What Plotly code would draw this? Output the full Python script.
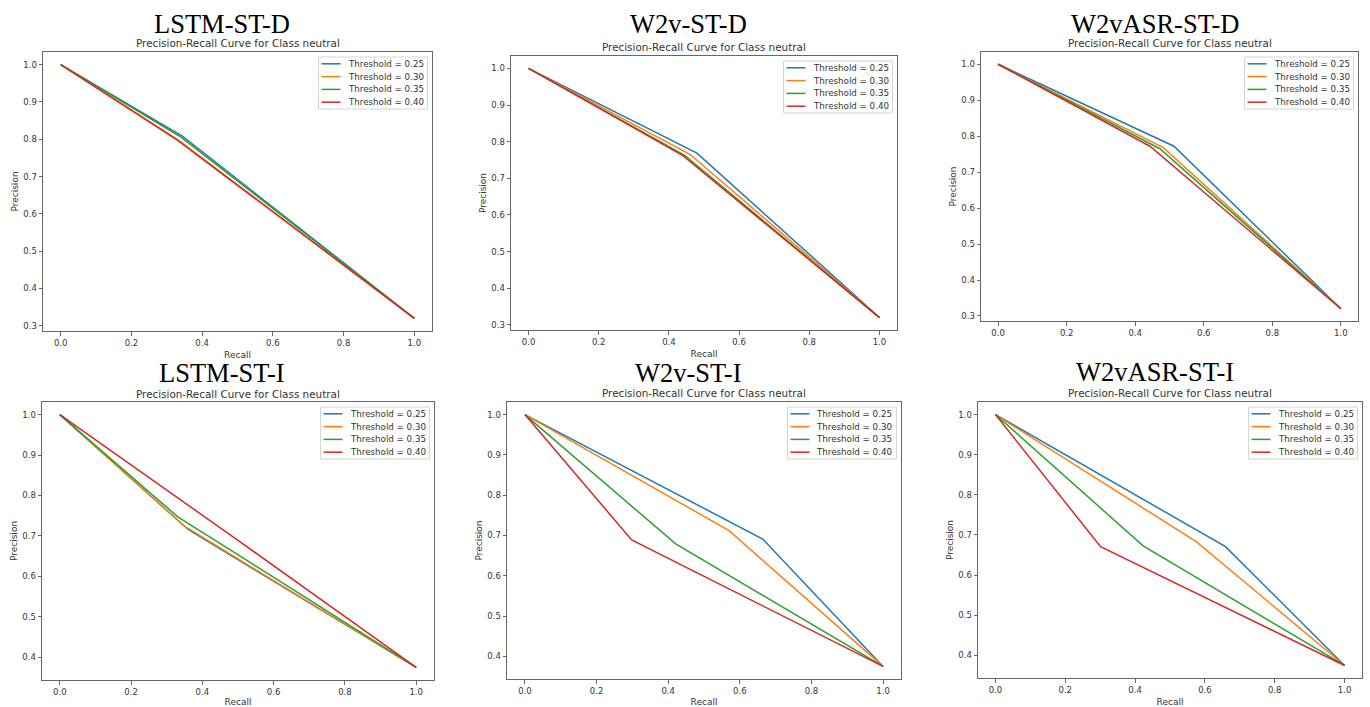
import plotly.graph_objects as go

W, H = 1370, 707

# ---------------- data ----------------
panel_names = ["LSTM-ST-D", "W2v-ST-D", "W2vASR-ST-D", "LSTM-ST-I", "W2v-ST-I", "W2vASR-ST-I"]
thresholds = ["0.25", "0.30", "0.35", "0.40"]
colors = ["#1f77b4", "#ff7f0e", "#2ca02c", "#d62728"]

# recall / precision per panel, per threshold (start, kink, end)
recall_lstm_d = [[0, 0.345, 1], [0, 0.33, 1], [0, 0.34, 1], [0, 0.33, 1]]
precision_lstm_d = [[1.0, 0.808, 0.32], [1.0, 0.800, 0.32], [1.0, 0.806, 0.32], [1.0, 0.798, 0.32]]

recall_w2v_d = [[0, 0.48, 1], [0, 0.461, 1], [0, 0.445, 1], [0, 0.44, 1]]
precision_w2v_d = [[1.0, 0.769, 0.32], [1.0, 0.765, 0.32], [1.0, 0.763, 0.32], [1.0, 0.762, 0.32]]

recall_w2vasr_d = [[0, 0.513, 1], [0, 0.482, 1], [0, 0.472, 1], [0, 0.443, 1]]
precision_w2vasr_d = [[1.0, 0.772, 0.32], [1.0, 0.768, 0.32], [1.0, 0.765, 0.32], [1.0, 0.772, 0.32]]

recall_lstm_i = [[0, 0.36, 1], [0, 0.35, 1], [0, 0.33, 1], [0, 0.50, 1]]
precision_lstm_i = [[1.0, 0.716, 0.375], [1.0, 0.724, 0.375], [1.0, 0.748, 0.375], [1.0, 0.689, 0.375]]

recall_w2v_i = [[0, 0.664, 1], [0, 0.570, 1], [0, 0.421, 1], [0, 0.298, 1]]
precision_w2v_i = [[1.0, 0.691, 0.375], [1.0, 0.712, 0.375], [1.0, 0.679, 0.375], [1.0, 0.689, 0.375]]

recall_w2vasr_i = [[0, 0.659, 1], [0, 0.576, 1], [0, 0.423, 1], [0, 0.301, 1]]
precision_w2vasr_i = [[1.0, 0.671, 0.375], [1.0, 0.683, 0.375], [1.0, 0.673, 0.375], [1.0, 0.671, 0.375]]

recalls = [recall_lstm_d, recall_w2v_d, recall_w2vasr_d, recall_lstm_i, recall_w2v_i, recall_w2vasr_i]
precisions = [precision_lstm_d, precision_w2v_d, precision_w2vasr_d, precision_lstm_i, precision_w2v_i, precision_w2vasr_i]

y_ticks_top = [0.3, 0.4, 0.5, 0.6, 0.7, 0.8, 0.9, 1.0]
y_ticks_bot = [0.4, 0.5, 0.6, 0.7, 0.8, 0.9, 1.0]
x_ticks = [0.0, 0.2, 0.4, 0.6, 0.8, 1.0]

# ---------------- layout (pixel boxes: left, right, top, bottom) ----------------
boxes = [(43, 432, 52, 331), (511, 897, 56, 330), (981, 1358, 52, 321),
         (42, 434, 402, 680), (507, 901, 402, 679), (978, 1362, 402, 678)]
yranges = [[0.286, 1.034]] * 3 + [[0.3438, 1.0312]] * 3
big_title_pos = [(222, 24), (688, 24), (1155, 24), (222, 373), (688, 373), (1155, 372)]
small_title_y = [43, 47, 43, 394, 393, 393]
show_xlabel = [True, True, False, True, True, True]

fig = go.Figure()
annotations = []
shapes = []
layout = dict(
    width=W, height=H, margin=dict(l=0, r=0, t=0, b=0),
    paper_bgcolor="white", plot_bgcolor="white",
    font=dict(family="DejaVu Sans", color="#333"),
    showlegend=False,
)

LEG_W, LEG_H = 109, 52
for i in range(6):
    sfx = "" if i == 0 else str(i + 1)
    L, R, T, B = boxes[i]
    for k in range(4):
        fig.add_trace(go.Scatter(
            x=recalls[i][k], y=precisions[i][k], mode="lines",
            line=dict(color=colors[k], width=1.5),
            name=f"Threshold = {thresholds[k]}",
            xaxis="x" + sfx, yaxis="y" + sfx,
        ))
    axcommon = dict(showgrid=False, zeroline=False, showline=True, mirror=True,
                    linecolor="#666", linewidth=1, ticks="outside", ticklen=3.5,
                    tickcolor="#666", tickfont=dict(size=8.5, color="#333"),
                    tickformat=".1f")
    layout["xaxis" + sfx] = dict(
        axcommon, domain=[L / W, R / W], range=[-0.05, 1.05], tickvals=x_ticks,
        anchor="y" + sfx,
        title=dict(text="Recall" if show_xlabel[i] else "", font=dict(size=9), standoff=4),
    )
    layout["yaxis" + sfx] = dict(
        axcommon, domain=[1 - B / H, 1 - T / H], range=yranges[i],
        tickvals=y_ticks_top if i < 3 else y_ticks_bot, anchor="x" + sfx,
        title=dict(text="Precision", font=dict(size=9), standoff=3),
    )
    # legend box (matplotlib style)
    lr = R - 4.5
    ll = lr - LEG_W
    lt = T + 5
    lb = lt + LEG_H
    shapes.append(dict(type="rect", xref="paper", yref="paper",
                       x0=ll / W, x1=lr / W, y0=1 - lb / H, y1=1 - lt / H,
                       line=dict(color="#d5d5d5", width=1), fillcolor="rgba(255,255,255,0.8)"))
    for k in range(4):
        ry = lt + 6.8 + 12.8 * k
        shapes.append(dict(type="line", xref="paper", yref="paper",
                           x0=(ll + 3) / W, x1=(ll + 22) / W, y0=1 - ry / H, y1=1 - ry / H,
                           line=dict(color=colors[k], width=1.5)))
        annotations.append(dict(text=f"Threshold = {thresholds[k]}", x=(ll + 27) / W, y=1 - ry / H,
                                xref="paper", yref="paper", showarrow=False,
                                xanchor="left", yanchor="middle",
                                font=dict(size=8.7, color="#333")))
    cx, cy = big_title_pos[i]
    annotations.append(dict(
        text=panel_names[i], x=cx / W, y=1 - cy / H, xref="paper", yref="paper",
        showarrow=False, xanchor="center", yanchor="middle",
        font=dict(family="Liberation Serif", size=26.5, color="black"),
    ))
    annotations.append(dict(
        text="Precision-Recall Curve for Class neutral",
        x=(L + R) / 2 / W, y=1 - small_title_y[i] / H, xref="paper", yref="paper",
        showarrow=False, xanchor="center", yanchor="middle",
        font=dict(family="DejaVu Sans", size=10.4, color="#333"),
    ))

layout["annotations"] = annotations
layout["shapes"] = shapes
fig.update_layout(**layout)
fig.write_html("out.html", config={"displayModeBar": False},
               post_script="document.body.style.margin='0';document.body.style.padding='0';")
